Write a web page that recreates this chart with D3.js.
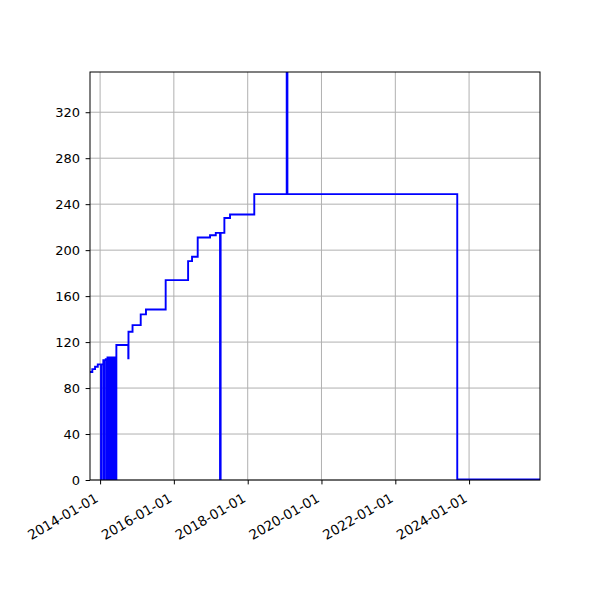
<!DOCTYPE html>
<html>
<head>
<meta charset="utf-8">
<script src="https://cdn.jsdelivr.net/npm/d3@7"></script>
<style>
  body { margin: 0; background: #fff; }
  text { font-family: "DejaVu Sans", sans-serif; }
</style>
</head>
<body>
<svg id="canvas" width="600" height="600"></svg>
<script>
// step series (date of change, new value)
const dates = [
    '2013-09-23', '2013-10-16', '2013-11-12', '2013-12-09', '2014-01-10', '2014-01-16',
    '2014-02-02', '2014-02-06', '2014-02-12', '2014-02-26', '2014-03-04', '2014-03-15',
    '2014-03-23', '2014-04-01', '2014-04-08', '2014-04-16', '2014-04-23', '2014-05-01',
    '2014-05-08', '2014-05-16', '2014-05-23', '2014-05-31', '2014-06-07', '2014-06-11',
    '2014-10-07', '2014-10-09', '2014-11-18', '2015-02-07', '2015-03-31', '2015-10-12',
    '2016-05-21', '2016-06-29', '2016-08-24', '2016-12-24', '2017-02-19', '2017-04-02',
    '2017-04-08', '2017-05-15', '2017-07-10', '2018-03-07', '2019-01-22', '2019-01-29',
    '2023-09-06', '2025-12-03'
]
const values = [
    94, 96.5, 98.5, 100.6, 0, 100.6,
    104.3, 0, 104.3, 105.2, 0, 106.7,
    0, 106.7, 0, 106.7, 0, 106.7,
    0, 106.7, 0, 106.7, 0, 117.4,
    105.8, 129, 134.8, 144.1, 148.4, 173.9,
    190.4, 194.2, 211, 213, 215, 0,
    215, 228, 231, 248.7, 355, 248.7,
    0.4, 0.4
]
const yTicks = [0, 40, 80, 120, 160, 200, 240, 280, 320]
const xTickYears = [2014, 2016, 2018, 2020, 2022, 2024]

const parse = d3.timeParse('%Y-%m-%d')
const points = dates.map((d, i) => ({ date: parse(d), value: values[i] }))

const plotLeft = 90, plotRight = 540, plotTop = 72, plotBottom = 480
const fontSize = 13

const svg = d3.select('#canvas')

const xScale = d3.scaleTime()
    .domain(d3.extent(points, p => p.date))
    .range([plotLeft, plotRight])

const yScale = d3.scaleLinear()
    .domain([0, d3.max(values)])
    .range([plotBottom, plotTop])

const xTicks = xTickYears.map(y => new Date(y, 0, 1))

// grid
svg.append('g')
    .selectAll('line')
    .data(xTicks)
    .enter()
    .append('line')
    .attr('x1', d => xScale(d)).attr('x2', d => xScale(d))
    .attr('y1', plotTop).attr('y2', plotBottom)
    .attr('stroke', '#b0b0b0').attr('stroke-width', 1)

svg.append('g')
    .selectAll('line')
    .data(yTicks)
    .enter()
    .append('line')
    .attr('x1', plotLeft).attr('x2', plotRight)
    .attr('y1', d => yScale(d)).attr('y2', d => yScale(d))
    .attr('stroke', '#b0b0b0').attr('stroke-width', 1)

svg.append('clipPath').attr('id', 'plot')
    .append('rect')
    .attr('x', plotLeft).attr('y', plotTop)
    .attr('width', plotRight - plotLeft).attr('height', plotBottom - plotTop)

let line = d3.line()
    .x(p => xScale(p.date))
    .y(p => yScale(p.value))
    .curve(d3.curveStepAfter)

svg.append('path')
    .datum(points)
    .attr('clip-path', 'url(#plot)')
    .attr('d', line)
    .attr('fill', 'none')
    .attr('stroke', '#0000ff')
    .attr('stroke-width', 1.9)

// axes
let yAxis = d3.axisLeft(yScale)
    .tickValues(yTicks)
    .tickSize(4.4)
    .tickPadding(5.6)

let yG = svg.append('g')
    .attr('transform', 'translate(' + plotLeft + ',0)')
    .call(yAxis)
yG.select('.domain').remove()
yG.selectAll('text').attr('font-size', fontSize).attr('fill', '#000').attr('font-family', 'DejaVu Sans')
yG.selectAll('line').attr('stroke', '#000').attr('stroke-width', 1)

let xAxis = d3.axisBottom(xScale)
    .tickValues(xTicks)
    .tickFormat(d3.timeFormat('%Y-%m-%d'))
    .tickSize(4.4)
    .tickPadding(4.4)

let xG = svg.append('g')
    .attr('transform', 'translate(0,' + plotBottom + ')')
    .call(xAxis)
xG.select('.domain').remove()
xG.selectAll('line').attr('stroke', '#000').attr('stroke-width', 1)
xG.selectAll('text')
    .attr('font-size', 13.5)
    .attr('fill', '#000')
    .attr('font-family', 'DejaVu Sans')
    .attr('text-anchor', 'end')
    .attr('dy', null)
    .attr('y', null)
    .attr('transform', 'translate(-1.5,21) rotate(-30)')

// frame
svg.append('rect')
    .attr('x', plotLeft).attr('y', plotTop)
    .attr('width', plotRight - plotLeft).attr('height', plotBottom - plotTop)
    .attr('fill', 'none')
    .attr('stroke', '#000')
    .attr('stroke-width', 1)
</script>
</body>
</html>
